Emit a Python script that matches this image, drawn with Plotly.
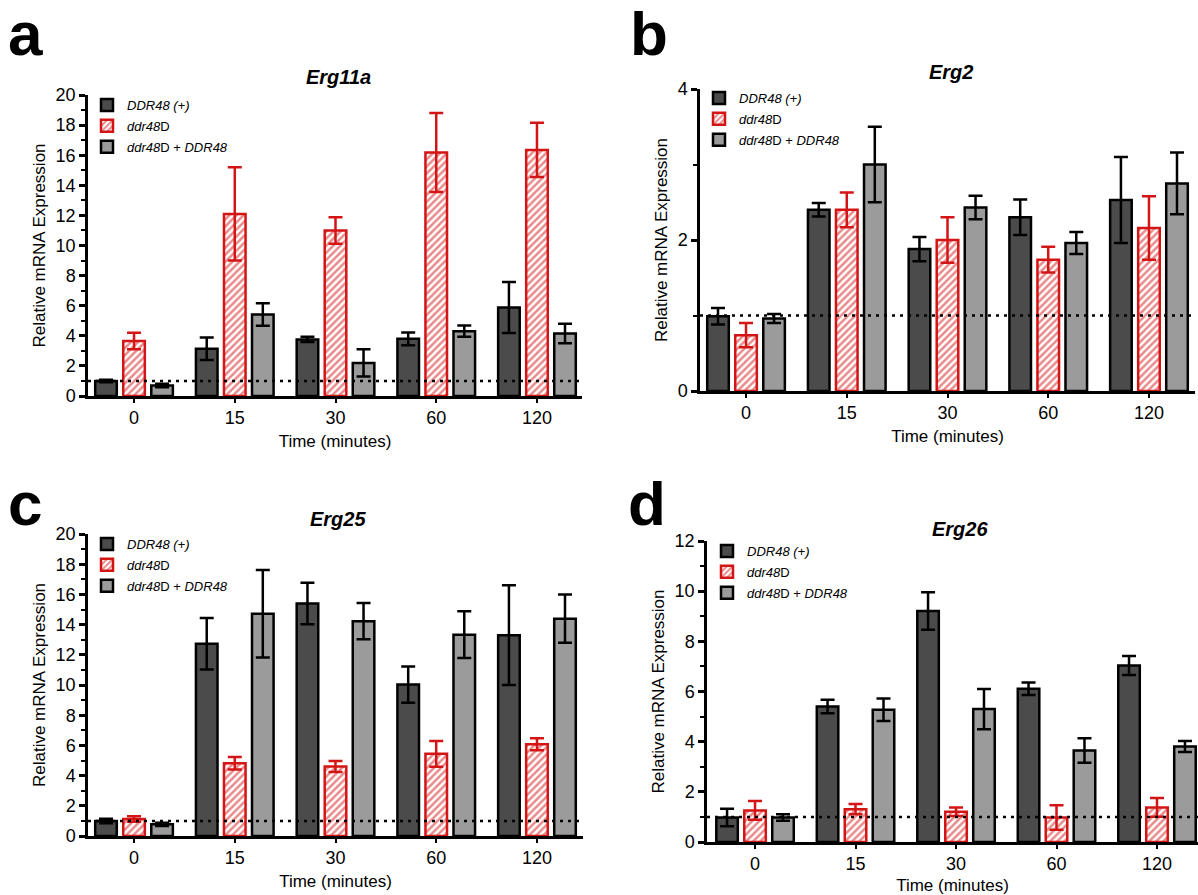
import plotly.graph_objects as go

W, H = 1198, 895

times = ["0", "15", "30", "60", "120"]
series_names = ["<i>DDR48 (+)</i>", "<i>ddr48</i>D", "<i>ddr48</i>D + <i>DDR48</i>"]

# Erg11a (panel a)
erg11a_wt = [1.0, 3.14, 3.76, 3.8, 5.88]
erg11a_wt_err = [0.08, 0.75, 0.17, 0.42, 1.7]
erg11a_del = [3.65, 12.1, 11.0, 16.18, 16.35]
erg11a_del_err = [0.55, 3.1, 0.88, 2.62, 1.8]
erg11a_comp = [0.7, 5.41, 2.2, 4.31, 4.15]
erg11a_comp_err = [0.12, 0.75, 0.9, 0.38, 0.65]

# Erg2 (panel b)
erg2_wt = [0.99, 2.40, 1.88, 2.30, 2.53]
erg2_wt_err = [0.11, 0.09, 0.16, 0.235, 0.57]
erg2_del = [0.74, 2.40, 2.0, 1.74, 2.16]
erg2_del_err = [0.16, 0.23, 0.30, 0.17, 0.42]
erg2_comp = [0.96, 3.0, 2.43, 1.96, 2.75]
erg2_comp_err = [0.06, 0.5, 0.155, 0.145, 0.41]

# Erg25 (panel c)
erg25_wt = [0.99, 12.73, 15.4, 10.03, 13.3]
erg25_wt_err = [0.15, 1.7, 1.37, 1.2, 3.3]
erg25_del = [1.13, 4.82, 4.6, 5.44, 6.08]
erg25_del_err = [0.18, 0.42, 0.36, 0.85, 0.4]
erg25_comp = [0.77, 14.72, 14.23, 13.33, 14.39]
erg25_comp_err = [0.1, 2.9, 1.2, 1.55, 1.6]

# Erg26 (panel d)
erg26_wt = [0.98, 5.4, 9.21, 6.11, 7.04]
erg26_wt_err = [0.35, 0.27, 0.75, 0.25, 0.38]
erg26_del = [1.26, 1.31, 1.21, 0.98, 1.38]
erg26_del_err = [0.37, 0.2, 0.17, 0.49, 0.37]
erg26_comp = [0.98, 5.27, 5.3, 3.65, 3.81]
erg26_comp_err = [0.13, 0.45, 0.8, 0.49, 0.22]

DARK = "#4b4b4b"
LIGHT = "#9b9b9b"
RED = "#d41515"
FONT = "Liberation Sans, Arial, Helvetica, sans-serif"

panels = [
    dict(key="", label="a", title="Erg11a", ymax=20, ytick=[0, 2, 4, 6, 8, 10, 12, 14, 16, 18, 20],
         data=[(erg11a_wt, erg11a_wt_err), (erg11a_del, erg11a_del_err), (erg11a_comp, erg11a_comp_err)],
         xpx=(88, 582), ypx=(95, 396), xr=[-0.457, 4.447],
         leg=(87, 90), title_pos=(338, 77), label_pos=(6, 33)),
    dict(key="2", label="b", title="Erg2", ymax=4, ytick=[0, 2, 4],
         data=[(erg2_wt, erg2_wt_err), (erg2_del, erg2_del_err), (erg2_comp, erg2_comp_err)],
         xpx=(700, 1195), ypx=(89, 391), xr=[-0.457, 4.457],
         leg=(699, 83), title_pos=(951, 72), label_pos=(628, 33)),
    dict(key="3", label="c", title="Erg25", ymax=20, ytick=[0, 2, 4, 6, 8, 10, 12, 14, 16, 18, 20],
         data=[(erg25_wt, erg25_wt_err), (erg25_del, erg25_del_err), (erg25_comp, erg25_comp_err)],
         xpx=(88, 583), ypx=(534, 836), xr=[-0.457, 4.457],
         leg=(87, 529), title_pos=(338, 519), label_pos=(6, 503)),
    dict(key="4", label="d", title="Erg26", ymax=12, ytick=[0, 2, 4, 6, 8, 10, 12],
         data=[(erg26_wt, erg26_wt_err), (erg26_del, erg26_del_err), (erg26_comp, erg26_comp_err)],
         xpx=(707, 1198), ypx=(541, 842), xr=[-0.478, 4.408],
         leg=(707, 536), title_pos=(960, 529), label_pos=(626, 503)),
]

fig = go.Figure()
layout = dict(
    width=W, height=H, margin=dict(l=0, r=0, t=0, b=0, autoexpand=False),
    paper_bgcolor="white", plot_bgcolor="white",
    barmode="group", bargap=0.165, bargroupgap=0.23,
    font=dict(family=FONT, color="black", size=17),
    showlegend=True,
)
annotations = []
shapes = []

for p in panels:
    k = p["key"]
    xa = "x" + k
    ya = "y" + k
    legname = "legend" + k
    for i, (vals, errs) in enumerate(p["data"]):
        if i == 0:
            marker = dict(color=DARK, line=dict(color="black", width=2.5))
            ecol = "black"
        elif i == 1:
            marker = dict(color="white", line=dict(color=RED, width=2.5),
                          pattern=dict(shape="/", fgcolor=RED, bgcolor="white", size=5, solidity=0.5))
            ecol = RED
        else:
            marker = dict(color=LIGHT, line=dict(color="black", width=2.5))
            ecol = "black"
        fig.add_trace(go.Bar(
            x=times, y=vals, name=series_names[i], marker=marker,
            error_y=dict(type="data", array=errs, visible=True, color=ecol, thickness=2.5, width=7),
            xaxis=xa, yaxis=ya, legend=legname, legendgroup=p["label"] + str(i),
            offsetgroup=str(i),
        ))
    x0, x1 = p["xpx"]
    y0, y1 = p["ypx"]
    layout["xaxis" + k] = dict(
        domain=[x0 / W, min(1.0, x1 / W)], anchor=ya, type="category", range=p["xr"],
        automargin=False,
        showline=True, linewidth=2.5, linecolor="black", ticks="outside", ticklen=4, tickwidth=2,
        tickcolor="black", showgrid=False, zeroline=False, fixedrange=True,
        tickfont=dict(size=18), title=dict(text="Time (minutes)", font=dict(size=17), standoff=8),
    )
    layout["yaxis" + k] = dict(
        domain=[1 - y1 / H, 1 - y0 / H], anchor=xa, range=[0, p["ymax"]],
        automargin=False,
        tickmode="array", tickvals=p["ytick"],
        showline=True, linewidth=2.5, linecolor="black", ticks="outside", ticklen=6, tickwidth=2.5,
        tickcolor="black", showgrid=False, zeroline=False,
        minor=dict(dtick=1, ticks="outside", ticklen=4, tickwidth=2, tickcolor="black", showgrid=False),
        tickfont=dict(size=18), title=dict(text="Relative mRNA Expression", font=dict(size=17), standoff=6),
    )
    lx, ly = p["leg"]
    layout[legname] = dict(
        x=lx / W, y=1 - ly / H, xanchor="left", yanchor="top", bgcolor="rgba(0,0,0,0)",
        font=dict(size=13, family=FONT), tracegroupgap=1, itemwidth=30,
    )
    tx, ty = p["title_pos"]
    annotations.append(dict(text="<b><i>" + p["title"] + "</i></b>", x=tx / W, y=1 - ty / H,
                            xref="paper", yref="paper", showarrow=False, xanchor="center", yanchor="middle",
                            font=dict(size=20, family=FONT)))
    bx, by = p["label_pos"]
    annotations.append(dict(text="<b>" + p["label"] + "</b>", x=bx / W, y=1 - by / H,
                            xref="paper", yref="paper", showarrow=False, xanchor="left", yanchor="middle",
                            font=dict(size=62, family=FONT)))
    shapes.append(dict(type="line", xref=xa + " domain", yref=ya, x0=0, x1=1, y0=1, y1=1,
                       line=dict(color="black", width=2.5, dash="3px,5px"), layer="above"))

layout["annotations"] = annotations
layout["shapes"] = shapes
fig.update_layout(**layout)
fig.write_html("out.html", config={"displayModeBar": False},
               post_script="document.body.style.margin='0';document.body.style.overflow='hidden';")
